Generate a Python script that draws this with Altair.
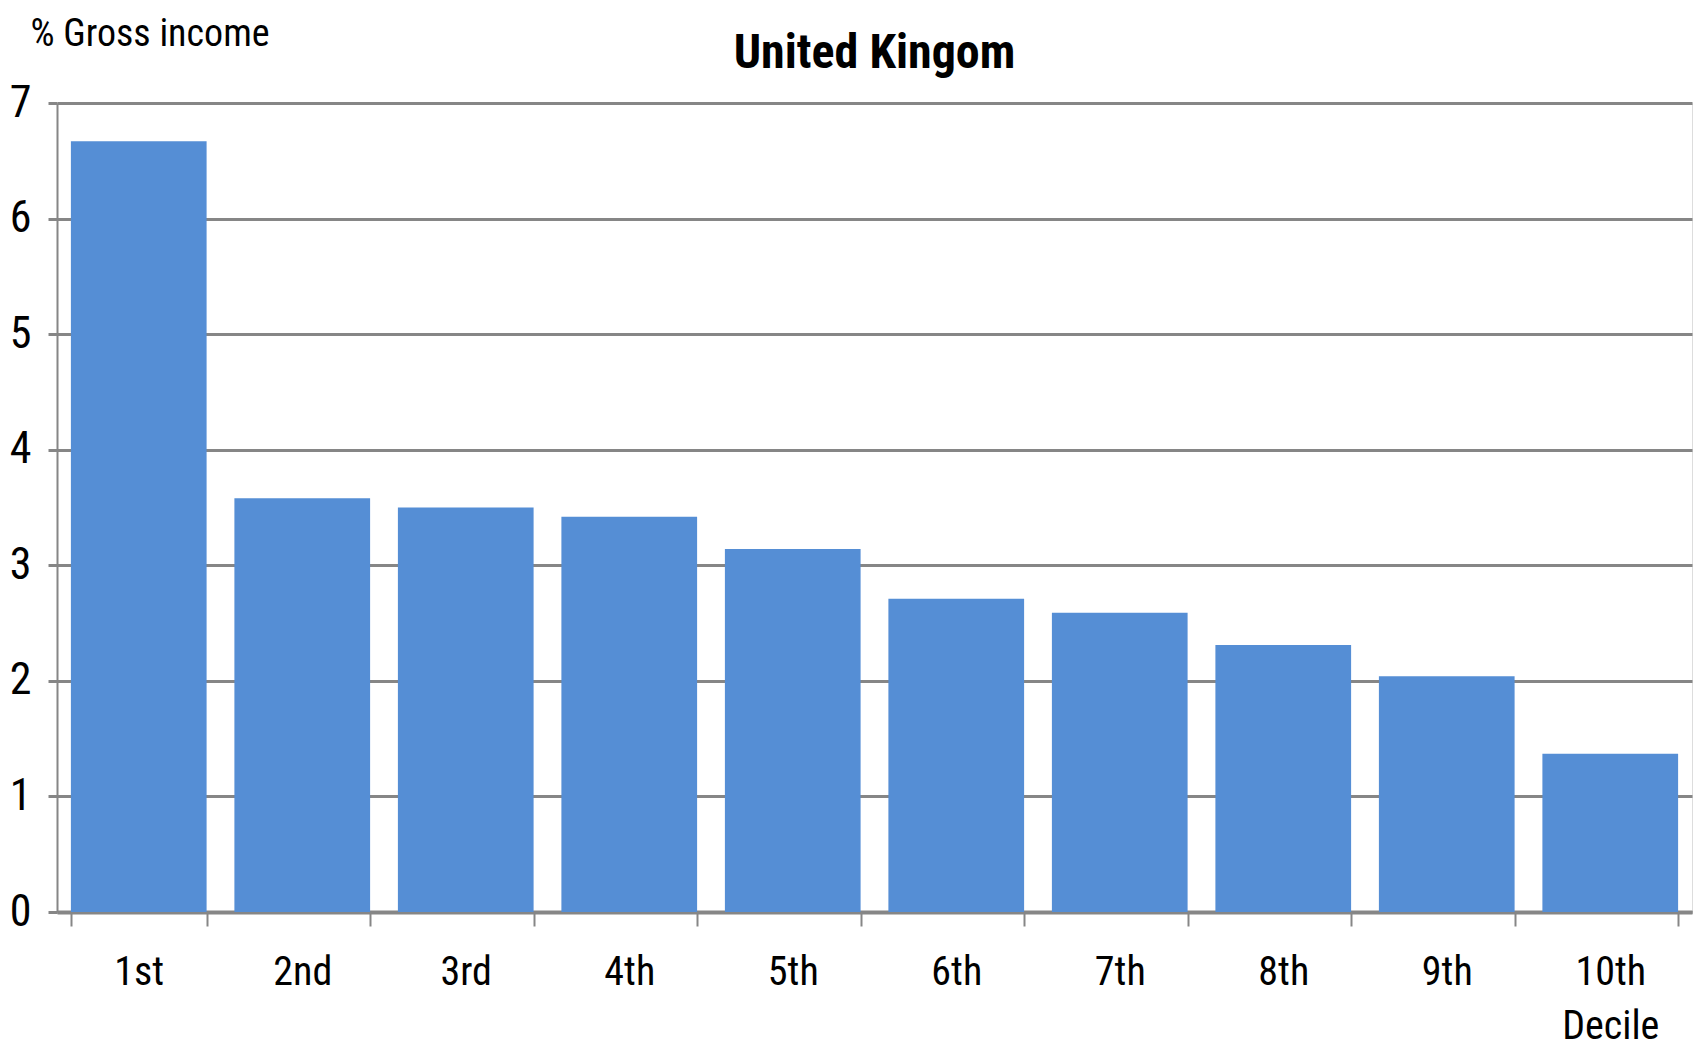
import altair as alt
import pandas as pd

deciles = ["1st", "2nd", "3rd", "4th", "5th", "6th", "7th", "8th", "9th", "10th"]
values = [6.67, 3.58, 3.50, 3.42, 3.14, 2.71, 2.59, 2.31, 2.04, 1.37]
y_ticks = [0, 1, 2, 3, 4, 5, 6, 7]

df = pd.DataFrame({"decile": deciles, "value": values})

FONT = "Roboto Condensed"
GRID = "#868686"
BAR = "#558ED5"

chart = alt.Chart(df).mark_bar(color=BAR).encode(
    x=alt.X(
        "decile:N",
        sort=deciles,
        scale=alt.Scale(paddingInner=0.17, paddingOuter=0.085),
        axis=alt.Axis(
            title=None, labelAngle=0, labelFont=FONT, labelFontSize=40,
            labelColor="black", labelPadding=26, labelBaseline="top",
            labelLineHeight=54,
            labelExpr="datum.value == '10th' ? ['10th', 'Decile'] : datum.value",
            tickBand="extent", tickSize=14, tickColor=GRID, tickWidth=2,
            domainColor=GRID, domainWidth=4, grid=False,
        ),
    ),
    y=alt.Y(
        "value:Q",
        scale=alt.Scale(domain=[0, 7], nice=False),
        axis=alt.Axis(
            values=y_ticks, title="% Gross income", titleAngle=0,
            titleAlign="left", titleBaseline="alphabetic", titleX=-27,
            titleY=-58, titleFont=FONT, titleFontSize=38,
            titleFontWeight="normal", titleColor="black",
            labelFont=FONT, labelFontSize=44, labelColor="black",
            labelPadding=17, tickSize=9, tickColor=GRID, tickWidth=3,
            grid=True, gridColor=GRID, gridWidth=3,
            domainColor=GRID, domainWidth=2,
        ),
    ),
).properties(
    width=1635,
    height=809,
    title=alt.TitleParams(
        text="United Kingom", font=FONT, fontSize=48, fontWeight="bold",
        color="black", anchor="middle", baseline="alphabetic", offset=-101,
    ),
    padding={"left": 57, "top": 103, "right": 2, "bottom": 139},
    autosize=alt.AutoSizeParams(type="none"),
).configure_view(stroke=None).configure(background="white")

chart.save("out.html", embed_options={"renderer": "svg", "actions": False})
